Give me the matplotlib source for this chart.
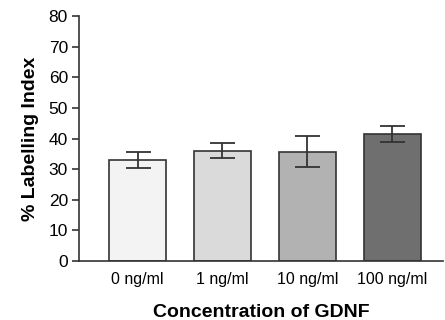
import numpy as np
import matplotlib
matplotlib.use('Agg')
import matplotlib.pyplot as plt

plt.rcParams['font.family'] = ['Liberation Sans', 'DejaVu Sans']

categories = ['0 ng/ml', '1 ng/ml', '10 ng/ml', '100 ng/ml']
means = [33.0, 36.0, 35.7, 41.6]
errors = [2.6, 2.4, 5.0, 2.6]
bar_colors = ['#f3f3f3', '#dadada', '#b2b2b2', '#6f6f6f']

fig = plt.figure(figsize=(4.45, 3.2), dpi=100)
ax = fig.add_axes([0.1775, 0.184, 0.818, 0.766])

x = np.arange(len(categories))
ax.bar(x, means, width=0.67, color=bar_colors, edgecolor='#333333', linewidth=1.2,
       yerr=errors, capsize=9, error_kw={'elinewidth': 1.3, 'capthick': 1.3, 'ecolor': '#333333'})

ax.set_xlim(-0.69, 3.6)
ax.set_ylim(0, 80)
ax.set_yticks(range(0, 81, 10))
ax.set_xticks(x)
ax.set_xticklabels(categories, fontsize=11.5)
ax.tick_params(axis='x', length=0, pad=8)
ax.tick_params(axis='y', labelsize=12.5, length=5, width=1.2, color='#333333', pad=3)

for side in ['top', 'right']:
    ax.spines[side].set_visible(False)
for side in ['left', 'bottom']:
    ax.spines[side].set_linewidth(1.2)
    ax.spines[side].set_color('#333333')

ax.set_ylabel('% Labelling Index', fontsize=14, fontweight='bold', labelpad=7)
ax.set_xlabel('Concentration of GDNF', fontsize=14, fontweight='bold', labelpad=12)

plt.savefig('out.png', dpi=100)
